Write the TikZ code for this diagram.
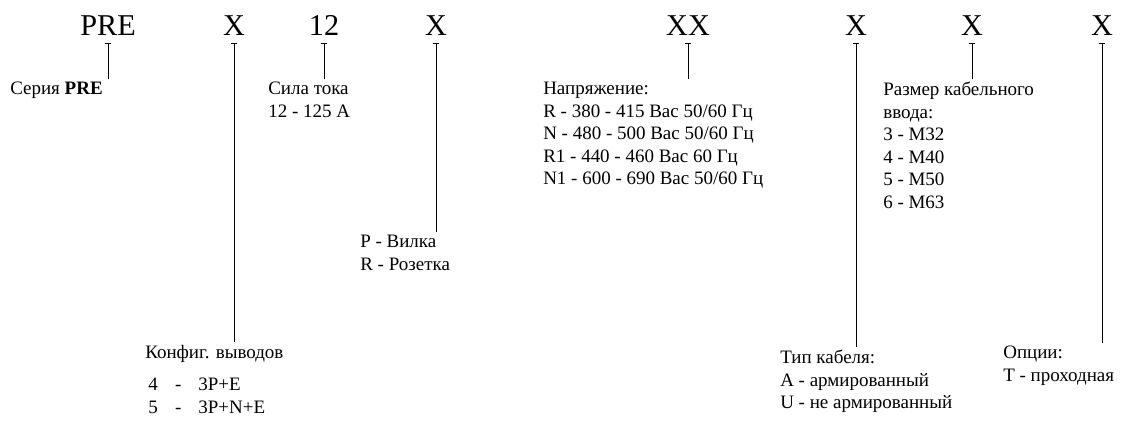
\documentclass[tikz,border=0pt]{standalone}
\usepackage{fontspec}
\setmainfont{Liberation Serif}
\usetikzlibrary{arrows.meta}

\tikzset{
  code/.style={font=\fontsize{21.5}{25}\selectfont, anchor=base, inner sep=0pt, outer ysep=6pt},
  legend/.style={font=\fontsize{13.5}{16}\selectfont, anchor=north west, inner sep=0pt, align=left},
  tick/.style={{Bar[width=4pt]}-, line width=0.7pt, shorten >=2pt}
}

\begin{document}
\begin{tikzpicture}[x=0.025cm, y=-0.025cm]
  \useasboundingbox (0,0) rectangle (1128,421);

  % Код заказа
  \node[code] (pre) at (108,35) {PRE};
  \node[code] (pins) at (234,35) {X};
  \node[code] (amp) at (324,35) {12};
  \node[code] (kind) at (436,35) {X};
  \node[code] (volt) at (688,35) {XX};
  \node[code] (cable) at (856,35) {X};
  \node[code] (gland) at (972,35) {X};
  \node[code] (opt) at (1102,35) {X};

  % Расшифровка
  \node[legend] (seriesTxt) at (10,82) {Серия \textbf{PRE}};
  \node[legend] (ampTxt) at (268,82) {Сила тока\\12 - 125 А};
  \node[legend] (pinsTxt) at (145,345) {Конфиг. выводов\\[7pt]
    \,4\hspace{0.9em}-\hspace{0.9em}3P+E\\
    \,5\hspace{0.9em}-\hspace{0.9em}3P+N+E};
  \node[legend] (kindTxt) at (360,235) {P - Вилка\\R - Розетка};
  \node[legend] (voltTxt) at (543,82) {Напряжение:\\
    R - 380 - 415 Вас 50/60 Гц\\
    N - 480 - 500 Вас 50/60 Гц\\
    R1 - 440 - 460 Вас 60 Гц\\
    N1 - 600 - 690 Вас 50/60 Гц};
  \node[legend] (cableTxt) at (780,350) {Тип кабеля:\\A - армированный\\U - не армированный};
  \node[legend] (glandTxt) at (883,82) {Размер кабельного\\ввода:\\3 - M32\\4 - M40\\5 - M50\\6 - M63};
  \node[legend] (optTxt) at (1003,346) {Опции:\\T - проходная};

  % Выноски
  \draw[tick] (pre.south) -- (pre.south |- seriesTxt.north);
  \draw[tick] (pins.south) -- (pins.south |- pinsTxt.north);
  \draw[tick] (amp.south) -- (amp.south |- ampTxt.north);
  \draw[tick] (kind.south) -- (kind.south |- kindTxt.north);
  \draw[tick] (volt.south) -- (volt.south |- voltTxt.north);
  \draw[tick] (cable.south) -- (cable.south |- cableTxt.north);
  \draw[tick] (gland.south) -- (gland.south |- glandTxt.north);
  \draw[tick] (opt.south) -- (opt.south |- optTxt.north);
\end{tikzpicture}
\end{document}
